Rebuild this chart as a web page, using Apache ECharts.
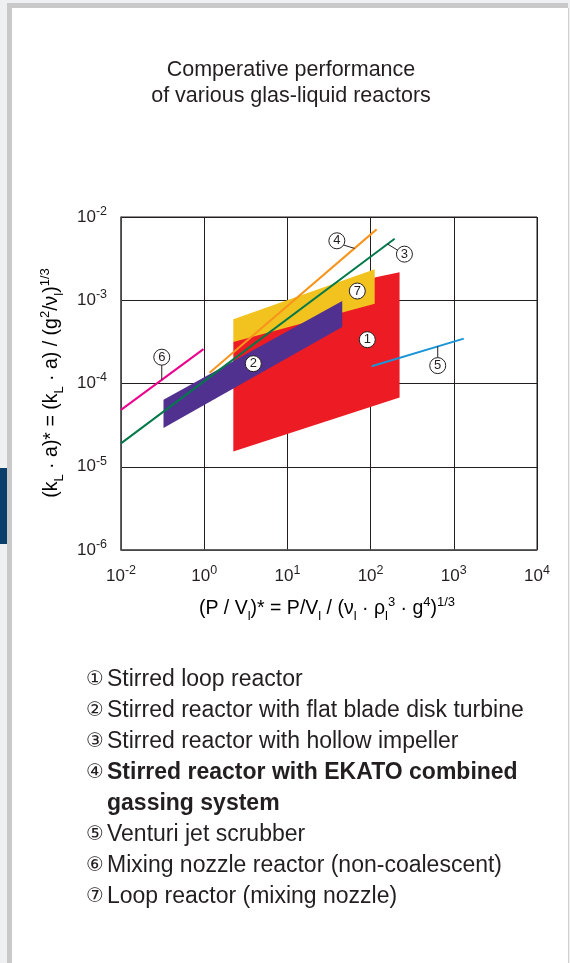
<!DOCTYPE html>
<html><head><meta charset="utf-8">
<script src="https://cdn.jsdelivr.net/npm/echarts@6/dist/echarts.min.js"></script>
<style>
html,body{margin:0;padding:0;width:570px;height:963px;overflow:hidden;background:#eff0f2;}
#frame{position:absolute;left:7px;top:3px;width:561px;height:960px;background:#c9c9c9;}
#panel{position:absolute;left:12px;top:8px;width:556px;height:955px;background:#fff;}
#rline{position:absolute;left:568px;top:8px;width:1px;height:955px;background:#d0d0d0;}
#tab{position:absolute;left:0;top:468px;width:7px;height:76px;background:#0c3e6c;}
#chart{position:absolute;left:0;top:0;width:570px;height:963px;}
</style></head><body>
<div id="frame"></div><div id="panel"></div><div id="rline"></div><div id="tab"></div>
<div id="chart"></div>
<script>
// ---- data ----
const xTickExp = ['-2', '0', '1', '2', '3', '4'];
const yTickExp = ['-6', '-5', '-4', '-3', '-2'];

const zone1 = [[2.24, 3.2e-4], [115, 1.89e-3], [223, 2.17e-3], [223, 6.8e-5], [2.24, 1.52e-5]]; // Stirred loop reactor
const zone7 = [[2.24, 5.9e-4], [112, 2.36e-3], [112, 9.1e-4], [2.24, 3.15e-4]];                  // Loop reactor
const zone2 = [[0.324, 6.37e-5], [45.6, 9.8e-4], [45.6, 4.77e-4], [0.324, 2.92e-5]];            // flat blade disk turbine

const line3 = [[0.1, 1.91e-5], [194.5, 5.48e-3]];   // hollow impeller
const line4 = [[1.16, 1.35e-4], [118, 7.1e-3]];     // EKATO combined gassing
const line5 = [[103, 1.61e-4], [1318, 3.46e-4]];    // Venturi jet scrubber
const line6 = [[0.1, 4.82e-5], [0.98, 2.59e-4]];    // Mixing nozzle reactor

const markers = [
  [91.2, 3.36e-4, '1'], [3.89, 1.73e-4, '2'], [255, 3.58e-3, '3'], [39.3, 5.18e-3, '4'],
  [641, 1.64e-4, '5'], [0.309, 2.07e-4, '6'], [69.2, 1.29e-3, '7']
];
const leaders = [
  [[47.3, 4.6e-3], [64.1, 4.2e-3]],
  [[160, 4.73e-3], [211, 4.0e-3]],
  [[0.309, 1.67e-4], [0.309, 1.11e-4]],
  [[641, 2.79e-4], [641, 2.03e-4]]
];

const titleLines = ['Comperative performance', 'of various glas-liquid reactors'];
const legendNums = ['①', '②', '③', '④', '', '⑤', '⑥', '⑦'];
const legendTexts = ['Stirred loop reactor', 'Stirred reactor with flat blade disk turbine',
  'Stirred reactor with hollow impeller', 'Stirred reactor with EKATO combined', 'gassing system',
  'Venturi jet scrubber', 'Mixing nozzle reactor (non-coalescent)', 'Loop reactor (mixing nozzle)'];
const legendBold = [false, false, false, true, true, false, false, false];

// ---- chart ----
const FONT = "'Liberation Sans', Arial, sans-serif";
const SYM = "'DejaVu Sans', 'Noto Sans CJK JP', sans-serif";
const chart = echarts.init(document.getElementById('chart'), null, {renderer: 'canvas'});

function polySeries(points, color, z) {
  return {
    type: 'custom', z: z, silent: true,
    data: [0],
    renderItem: function (params, api) {
      return {
        type: 'polygon',
        shape: {points: points.map(p => api.coord(p))},
        style: {fill: color}
      };
    }
  };
}
function lineSeries(data, color, width, z) {
  return {type: 'line', data: data, z: z, symbol: 'none', silent: true,
    lineStyle: {color: color, width: width}};
}
const richAx = {
  b: {fontFamily: FONT, fontSize: 17, color: '#231f20', lineHeight: 24, verticalAlign: 'middle'},
  s: {fontFamily: FONT, fontSize: 12.5, color: '#231f20', lineHeight: 15, verticalAlign: 'top'}
};
const richName = {
  n: {fontFamily: FONT, fontSize: 19.5, color: '#231f20', lineHeight: 27, verticalAlign: 'middle'},
  sub: {fontFamily: FONT, fontSize: 13, color: '#231f20', lineHeight: 13, verticalAlign: 'bottom'},
  sup: {fontFamily: FONT, fontSize: 13, color: '#231f20', lineHeight: 15, verticalAlign: 'top'}
};

const graphics = [];
titleLines.forEach((t, i) => graphics.push({
  type: 'text', x: 291, y: 70 + i * 26,
  style: {text: t, font: '21.5px ' + FONT, fill: '#231f20', align: 'center', verticalAlign: 'middle'}
}));
graphics.push({
  type: 'text', x: 327, y: 609,
  style: {
    text: '{n|(P / V}{sub|l}{n|)* = P/V}{sub|l}{n| / (ν}{sub|l}{n| · ρ}{sub|l}{sup|3}{n| · g}{sup|4}{n|)}{sup|1/3}',
    rich: richName, align: 'center', verticalAlign: 'middle'
  }
});
graphics.push({
  type: 'text', x: 52, y: 383, rotation: Math.PI / 2,
  style: {
    text: '{n|(k}{sub|L}{n| · a)* = (k}{sub|L}{n| · a) / (g}{sup|2}{n|/ν}{sub|l}{n|)}{sup|1/3}',
    rich: richName, align: 'center', verticalAlign: 'middle'
  }
});
legendTexts.forEach((t, i) => {
  const y = 680 + i * 31;
  if (legendNums[i]) graphics.push({
    type: 'text', x: 95, y: y,
    style: {text: legendNums[i], font: '20px ' + SYM, fill: '#231f20', align: 'center', verticalAlign: 'middle'}
  });
  graphics.push({
    type: 'text', x: 107, y: y,
    style: {text: t, font: (legendBold[i] ? 'bold ' : '') + '23px ' + FONT, fill: '#231f20', align: 'left', verticalAlign: 'middle'}
  });
});

const option = {
  animation: false,
  backgroundColor: 'transparent',
  grid: {left: 121, top: 217, width: 416, height: 333, show: true, borderColor: '#231f20', borderWidth: 1},
  xAxis: {
    type: 'log', logBase: 10, min: 0.1, max: 10000, interval: 1,
    axisLine: {show: true, lineStyle: {color: '#555', width: 1.5}},
    axisTick: {show: false},
    splitLine: {show: true, lineStyle: {color: '#231f20', width: 1}},
    axisLabel: {
      margin: 14,
      formatter: v => '{b|10}{s|' + xTickExp[Math.round(Math.log10(v)) + 1] + '}',
      rich: richAx
    }
  },
  yAxis: {
    type: 'log', logBase: 10, min: 1e-6, max: 1e-2, interval: 1,
    axisLine: {show: true, lineStyle: {color: '#555', width: 1.5}},
    axisTick: {show: false},
    splitLine: {show: true, lineStyle: {color: '#231f20', width: 1}},
    axisLabel: {
      margin: 14,
      formatter: v => '{b|10}{s|' + yTickExp[Math.round(Math.log10(v)) + 6] + '}',
      rich: richAx
    }
  },
  graphic: graphics,
  series: [
    polySeries(zone1, '#ed1c24', 2),
    polySeries(zone7, '#f2c31f', 3),
    polySeries(zone2, '#51318f', 4),
    lineSeries(line6, '#ec008c', 2, 5),
    lineSeries(line3, '#00794a', 2, 6),
    lineSeries(line4, '#f7941d', 2, 5),
    lineSeries(line5, '#1b95d6', 2, 5),
    ...leaders.map(l => lineSeries(l, '#231f20', 1, 7)),
    {
      type: 'scatter', z: 8, silent: true,
      data: markers,
      symbol: 'circle', symbolSize: 16,
      itemStyle: {color: '#fff', borderColor: '#231f20', borderWidth: 1, opacity: 1},
      label: {show: true, position: 'inside', formatter: p => p.value[2],
        fontFamily: 'Liberation Sans', fontSize: 13, color: '#231f20'}
    }
  ]
};
chart.setOption(option);
</script></body></html>
